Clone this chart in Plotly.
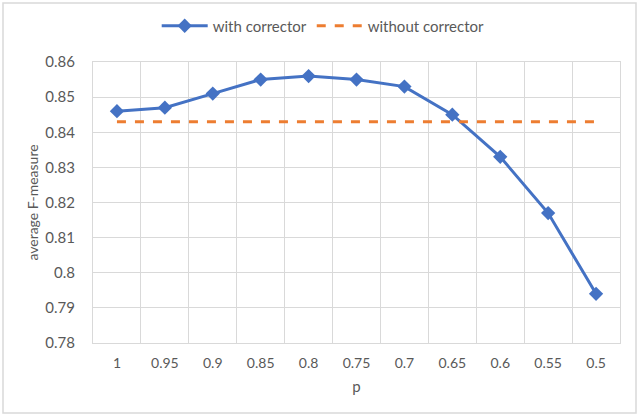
import plotly.graph_objects as go

p_labels = ["1", "0.95", "0.9", "0.85", "0.8", "0.75", "0.7", "0.65", "0.6", "0.55", "0.5"]
with_corrector = [0.846, 0.847, 0.851, 0.855, 0.856, 0.855, 0.853, 0.845, 0.833, 0.817, 0.794]
without_corrector = [0.843] * len(p_labels)

FONT = "Lato"
GRAY = "#595959"
GRID = "#d9d9d9"

fig = go.Figure()
fig.add_trace(go.Scatter(
    x=p_labels, y=with_corrector, name="with corrector", mode="lines+markers",
    line=dict(color="#4472C4", width=3),
    marker=dict(symbol="diamond", size=11, color="#4472C4"),
))
fig.add_trace(go.Scatter(
    x=p_labels, y=without_corrector, name="without corrector", mode="lines",
    line=dict(color="#ED7D31", width=3, dash="dash"),
))

L, R, T, B = 93, 20, 62, 73
W, H = 640, 416
pw, ph = W - L - R, H - T - B

fig.update_layout(
    width=W, height=H,
    margin=dict(l=L, r=R, t=T, b=B, autoexpand=False),
    paper_bgcolor="white", plot_bgcolor="white",
    font=dict(family=FONT, color=GRAY, size=13),
    legend=dict(orientation="h", xref="container", x=0.505, xanchor="center",
                yref="container", y=(H - 26) / H, yanchor="middle",
                font=dict(size=15, color=GRAY), itemwidth=46),
    xaxis=dict(type="category", range=[-0.5, len(p_labels) - 0.5],
               tickson="boundaries", showgrid=True, gridcolor=GRID,
               gridwidth=1, ticks="", showline=True, linecolor=GRID, mirror=True,
               ticklabelstandoff=7,
               tickfont=dict(size=14, color=GRAY),
               title=dict(text="p", font=dict(size=15, color=GRAY), standoff=11)),
    yaxis=dict(range=[0.78, 0.86], dtick=0.01, showgrid=True, gridcolor=GRID,
               gridwidth=1, zeroline=False, showline=True, linecolor=GRID, mirror=True,
               ticks="", ticklabelstandoff=14,
               tickfont=dict(size=15, color=GRAY),
               title=dict(text="average F-measure", font=dict(size=14, color=GRAY), standoff=3)),
    showlegend=True,
)

# chart outer border
fig.add_shape(type="rect", xref="paper", yref="paper",
              x0=(3 - L) / pw, x1=(636 - L) / pw,
              y0=(H - B - 413) / ph, y1=(H - B - 3) / ph,
              line=dict(color=GRID, width=1.5), layer="below")

fig.write_html("out.html", config={"displayModeBar": False},
               post_script="document.body.style.margin='0';")
